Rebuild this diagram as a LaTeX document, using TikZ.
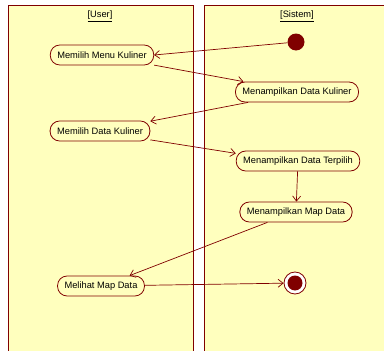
\documentclass[tikz,border=0pt]{standalone}
\usepackage{fontspec}
\setmainfont{Liberation Sans}
\usetikzlibrary{arrows.meta,positioning}
\definecolor{umlred}{RGB}{128,0,0}
\definecolor{lanefill}{RGB}{255,255,190}

\begin{document}
\begin{tikzpicture}[
    x=1pt, y=-1pt,
    lane/.style={draw=umlred, fill=lanefill, line width=0.8pt},
    action/.style={rectangle, draw=umlred, fill=lanefill, rounded corners=9.5pt,
                   minimum height=20pt, inner xsep=7pt, line width=0.8pt,
                   font=\fontsize{9.3}{11}\selectfont},
    title/.style={font=\fontsize{9.3}{11}\selectfont},
    arrow/.style={-{Straight Barb[length=5pt,width=8pt]}, draw=umlred, line width=0.7pt}
]
\useasboundingbox (0,0) rectangle (384,351);

% Swimlanes
\draw[lane] (8,5) rectangle (193,360);
\draw[lane] (204,5) rectangle (392,360);
\node[title] (user) at (100,16) {\underline{[User]}};
\node[title] (sistem) at (297,16) {\underline{[Sistem]}};

% Start and end
\node[circle, fill=umlred, minimum size=17pt, inner sep=0pt] (start) at (296,42) {};
\node[circle, draw=umlred, fill=white, line width=0.8pt, minimum size=22pt, inner sep=0pt] (end) at (295,283) {};
\node[circle, fill=umlred, minimum size=15pt, inner sep=0pt] (endDot) at (end) {};

% User actions
\node[action] (menu) at (102,55) {Memilih Menu Kuliner};
\node[action] (pilih) at (100,131) {Memilih Data Kuliner};
\node[action] (lihat) at (101,286) {Melihat Map Data};

% Sistem actions
\node[action] (tampil) at (297,92) {Menampilkan Data Kuliner};
\node[action] (terpilih) at (298,161) {Menampilkan Data Terpilih};
\node[action] (map) at (296,212) {Menampilkan Map Data};

% Flows
\draw[arrow] (start) -- (menu.east);
\draw[arrow] (menu.-11) -- (tampil.169);
\draw[arrow] (tampil.192) -- (pilih.11);
\draw[arrow] (pilih.-10) -- (terpilih.173);
\draw[arrow] (terpilih) -- (map);
\draw[arrow] (map.200) -- (lihat.20);
\draw[arrow] (lihat) -- (end);

\end{tikzpicture}
\end{document}
